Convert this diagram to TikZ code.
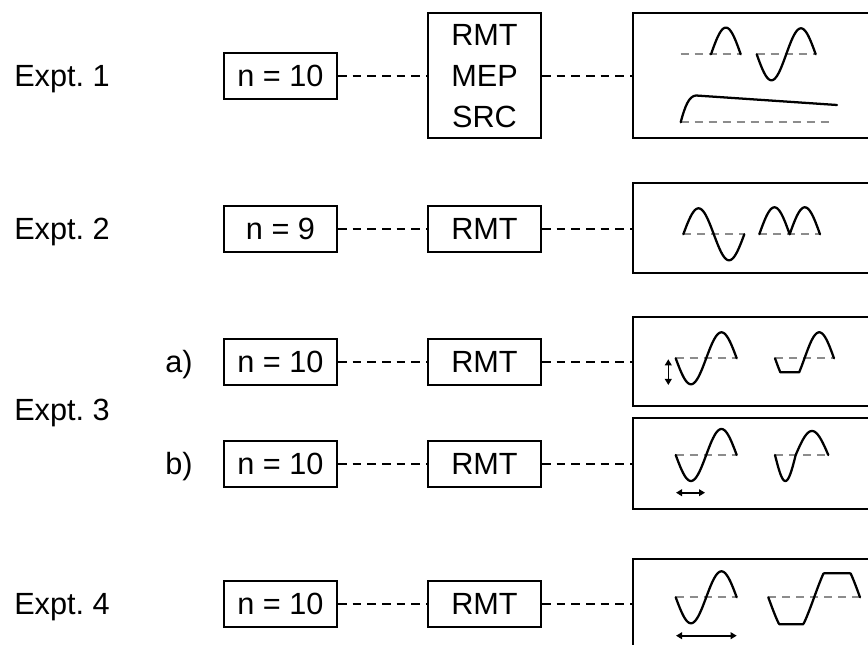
\documentclass[tikz,border=0pt]{standalone}
\usepackage{fontspec}
\setmainfont{Liberation Sans}
\usetikzlibrary{arrows.meta}
\frenchspacing
\begin{document}
\begin{tikzpicture}[x=0.75pt,y=-0.75pt,
  txt/.style={font=\fontsize{23}{31}\selectfont, inner sep=0pt},
  box/.style={txt, draw, line width=1.5pt, minimum width=84.75pt, minimum height=34.5pt},
  panel/.style={draw, line width=1.5pt, minimum width=180pt, inner sep=0pt},
  conn/.style={line width=1.3pt, dash pattern=on 6.5pt off 4.5pt},
  gbase/.style={draw=black!45, line width=1.4pt, dash pattern=on 6pt off 4.5pt},
  wave/.style={line width=1.7pt, line join=round, line cap=round},
  dim/.style={line width=1.2pt, {Triangle[length=4.5pt,width=5pt]}-{Triangle[length=4.5pt,width=5pt]}}
]
\useasboundingbox (0,0) rectangle (868,645);
\clip (0,0) rectangle (868,645);

% ---------- Expt. 1
\node[txt, anchor=base west] (e1) at (14,86.5) {Expt. 1};
\node[box] (n1) at (280.5,76) {n = 10};
\node[box, minimum height=93.75pt, align=center] (m1) at (484.5,76) {RMT\\MEP\\SRC};
\node[panel, minimum height=93.75pt] (r1) at (753,76) {};
\draw[conn] (n1.east) -- (n1.east -| m1.west);
\draw[conn] (m1.east) -- (m1.east -| r1.west);

\draw[gbase] (680.7,54.3) -- (740.7,54.3);
\draw[gbase] (756.7,54.3) -- (815,54.3);
\draw[gbase] (680.7,122.3) -- (832,122.3);
\draw[wave] plot[domain=0:180,samples=30] ({711+\x/180*29.7},{54.3-26.7*sin(\x)});
\draw[wave] plot[domain=0:360,samples=50] ({756.7+\x/360*59},{54.3+26*sin(\x)});
\draw[wave] (680.7,122.3) .. controls (685,106) and (689,96) .. (696,95.5) -- (837,105);

% ---------- Expt. 2
\node[txt, anchor=base west] (e2) at (14,239.5) {Expt. 2};
\node[box] (n2) at (280.5,229) {n = 9};
\node[box] (m2) at (484.5,229) {RMT};
\node[panel, minimum height=67.5pt] (r2) at (753,228.5) {};
\draw[conn] (n2.east) -- (n2.east -| m2.west);
\draw[conn] (m2.east) -- (m2.east -| r2.west);

\draw[gbase] (683.3,234.3) -- (745,234.3);
\draw[gbase] (759.3,234.3) -- (820,234.3);
\draw[wave] plot[domain=0:360,samples=50] ({683.3+\x/360*61},{234.3-26*sin(\x)});
\draw[wave] plot[domain=0:360,samples=61] ({759.3+\x/360*60.7},{234.3-27*abs(sin(\x))});

% ---------- Expt. 3
\node[txt, anchor=base west] (e3) at (14,421) {Expt. 3};
\node[txt, anchor=base west] (la) at (165,372.5) {a)};
\node[txt, anchor=base west] (lb) at (165,474.5) {b)};

\node[box] (n3a) at (280.5,362) {n = 10};
\node[box] (m3a) at (484.5,362) {RMT};
\node[panel, minimum height=66.75pt] (r3a) at (753,361.5) {};
\draw[conn] (n3a.east) -- (n3a.east -| m3a.west);
\draw[conn] (m3a.east) -- (m3a.east -| r3a.west);

\draw[gbase] (675.7,358.3) -- (736.7,358.3);
\draw[gbase] (775,358.3) -- (834,358.3);
\draw[wave] plot[domain=0:360,samples=50] ({675.7+\x/360*61},{358.3+26*sin(\x)});
\draw[dim] (668.3,359.3) -- (668.3,385);
\draw[wave] plot[domain=0:32.6,samples=8] ({775+\x/360*59},{358.3+26*sin(\x)})
   -- plot[domain=147.4:360,samples=40] ({775+\x/360*59},{358.3+26*sin(\x)});

\node[box] (n3b) at (280.5,464) {n = 10};
\node[box] (m3b) at (484.5,464) {RMT};
\node[panel, minimum height=68.25pt] (r3b) at (753,463.5) {};
\draw[conn] (n3b.east) -- (n3b.east -| m3b.west);
\draw[conn] (m3b.east) -- (m3b.east -| r3b.west);

\draw[gbase] (675.7,455) -- (736.7,455);
\draw[gbase] (775,455) -- (828.3,455);
\draw[wave] plot[domain=0:360,samples=50] ({675.7+\x/360*61},{455+26*sin(\x)});
\draw[dim] (676,492.7) -- (705,492.7);
\draw[wave] plot[domain=0:180,samples=25] ({775+\x/180*20.7},{455+26*sin(\x)})
   -- plot[domain=0:180,samples=30] ({795.7+\x/180*32.6},{455-24*sin(\x)});

% ---------- Expt. 4
\node[txt, anchor=base west] (e4) at (14,614.5) {Expt. 4};
\node[box] (n4) at (280.5,604) {n = 10};
\node[box] (m4) at (484.5,604) {RMT};
\node[panel, minimum height=67.5pt] (r4) at (753,604) {};
\draw[conn] (n4.east) -- (n4.east -| m4.west);
\draw[conn] (m4.east) -- (m4.east -| r4.west);

\draw[gbase] (675.7,597.3) -- (736.7,597.3);
\draw[gbase] (768.3,597.3) -- (860,597.3);
\draw[wave] plot[domain=0:360,samples=50] ({675.7+\x/360*61},{597.3+26*sin(\x)});
\draw[dim] (676,635.7) -- (736.7,635.7);
\draw[wave] plot[domain=0:360,samples=91] ({768.3+\x/360*91.7},{597.3+max(-24,min(27,40*sin(\x)))});
\end{tikzpicture}
\end{document}
